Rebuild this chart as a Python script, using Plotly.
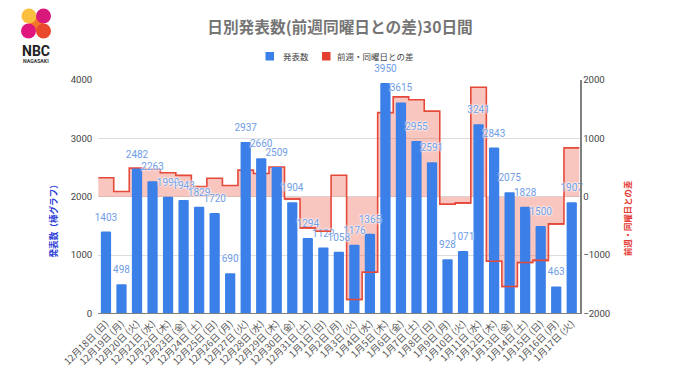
import plotly.graph_objects as go

dates = ["12月18日 (日)", "12月19日 (月)", "12月20日 (火)", "12月21日 (水)", "12月22日 (木)", "12月23日 (金)",
         "12月24日 (土)", "12月25日 (日)", "12月26日 (月)", "12月27日 (火)", "12月28日 (水)", "12月29日 (木)",
         "12月30日 (金)", "12月31日 (土)", "1月1日 (日)", "1月2日 (月)", "1月3日 (火)", "1月4日 (水)",
         "1月5日 (木)", "1月6日 (金)", "1月7日 (土)", "1月8日 (日)", "1月9日 (月)", "1月10日 (火)",
         "1月11日 (水)", "1月12日 (木)", "1月13日 (金)", "1月14日 (土)", "1月15日 (日)", "1月16日 (月)", "1月17日 (火)"]
counts = [1403, 498, 2482, 2263, 1999, 1943, 1829, 1720, 690, 2937, 2660, 2509, 1904, 1294, 1129, 1058,
          1176, 1365, 3950, 3615, 2955, 2591, 928, 1071, 3241, 2843, 2075, 1828, 1500, 463, 1907]
week_diff = [325, 90, 490, 470, 410, 365, 175, 317, 192, 455, 397, 510, -39, -535, -591, 368,
             -1761, -1295, 1441, 1711, 1661, 1466, -130, -105, 1876, -1107, -1540, -1127, -1091, -465, 836]

W, H = 680, 382
idx = list(range(len(dates)))
edges = [i - 0.5 for i in idx] + [len(idx) - 0.5]
step_y = week_diff + [week_diff[-1]]
RED = "#e5493a"
BLUE = "#3b7fe8"

neg_x, neg_y = [], []
for i, v in zip(idx, week_diff):
    if v < 0:
        neg_x += [i - 0.5, i + 0.5, None]
        neg_y += [v, v, None]

fig = go.Figure()
fig.add_trace(go.Scatter(x=edges, y=step_y, mode="lines", line=dict(shape="hv", color=RED, width=1.6),
                         fill="tozeroy", fillcolor="rgba(234,80,60,0.33)", yaxis="y", showlegend=False, hoverinfo="skip"))
fig.add_trace(go.Bar(x=idx, y=counts, width=0.66, marker=dict(color=BLUE, line_width=0), yaxis="y2",
                     showlegend=False, name="発表数"))
fig.add_trace(go.Scatter(x=idx, y=counts, mode="markers+text", text=[str(c) for c in counts],
                         textposition="top center", marker=dict(size=12, opacity=0),
                         textfont=dict(family="Roboto, sans-serif", size=10, color="#6f9de6",
                                       shadow="white 0 0 2px, white 0 0 2px, white 0 0 3px"),
                         cliponaxis=False, yaxis="y2", showlegend=False, hoverinfo="skip"))
fig.add_trace(go.Scatter(x=neg_x, y=neg_y, mode="lines", line=dict(color=RED, width=1.6), yaxis="y3",
                         showlegend=False, hoverinfo="skip"))


def px(x):
    return x / W


def py(y):
    return 1 - y / H


shapes = [dict(type="line", xref="paper", yref="paper", x0=px(29), y0=py(16), x1=px(43.5), y1=py(31),
               line=dict(color="#f2762a", width=10))]
for cx, cy, col in [(29, 16, "#fbbf40"), (43.5, 16, "#d9187c"), (28.5, 31, "#e0167e"), (43.5, 31, "#ea4a2c")]:
    shapes.append(dict(type="circle", xref="paper", yref="paper", x0=px(cx - 7.5), x1=px(cx + 7.5),
                       y0=py(cy + 7.5), y1=py(cy - 7.5), fillcolor=col, line_width=0))
for x0, col in [(265.5, BLUE), (322, "#e53f31")]:
    shapes.append(dict(type="rect", xref="paper", yref="paper", x0=px(x0), x1=px(x0 + 8.5),
                       y0=py(60.5), y1=py(52), fillcolor=col, line_width=0))

CJK = "Noto Sans CJK JP, sans-serif"
annotations = [
    dict(text="<b>NBC</b>", x=px(36), y=py(50.5), font=dict(family="Roboto, sans-serif", size=14, color="#222222")),
    dict(text="<b>NAGASAKI</b>", x=px(36), y=py(61), font=dict(family="Roboto, sans-serif", size=5.2, color="#333333")),
    dict(text="<b>発表数（棒グラフ）</b>", x=px(52.5), y=py(219), textangle=-90, font=dict(family=CJK, size=8.6, color="#2f3fd8")),
    dict(text="<b>前週・同曜日との差</b>", x=px(627), y=py(219), textangle=-90, font=dict(family=CJK, size=8.4, color="#e53935")),
    dict(text="発表数", x=px(295.5), y=py(56.5), font=dict(family=CJK, size=8.5, color="#444444")),
    dict(text="前週・同曜日との差", x=px(375.5), y=py(56.5), font=dict(family=CJK, size=8.5, color="#444444")),
]
for a in annotations:
    a.update(xref="paper", yref="paper", showarrow=False, xanchor="center", yanchor="middle")

tickfont = dict(family="Roboto, sans-serif", size=9.6, color="#444444")
fig.update_layout(
    template="none", showlegend=False,
    width=W, height=H, margin=dict(l=0, r=0, t=0, b=0, pad=0), paper_bgcolor="white", plot_bgcolor="white",
    title=dict(text="<b>日別発表数(前週同曜日との差)30日間</b>", x=0.5, xanchor="center", y=py(28), yanchor="middle",
               font=dict(family=CJK, size=15.7, color="#757575"), automargin=False),
    xaxis=dict(domain=[px(98.2), px(579.5)], range=[-0.5, 30.5], tickmode="array", tickvals=idx, ticktext=dates,
               tickangle=-45, tickfont=dict(family=CJK, size=9.5, color="#555555"), showgrid=False, automargin=False,
               showline=True, linecolor="#808080", linewidth=1.2, ticks="", zeroline=False),
    yaxis=dict(domain=[py(313.4), py(80)], range=[-2000, 2000], dtick=1000, side="right", tickfont=tickfont, automargin=False,
               showgrid=True, gridcolor="#dddddd", gridwidth=1, zeroline=True, zerolinecolor="#dddddd", zerolinewidth=1,
               showline=True, linecolor="#808080", linewidth=1.5, ticks=""),
    yaxis2=dict(domain=[py(313.4), py(80)], range=[0, 4000], dtick=1000, side="left", overlaying="y", anchor="x", automargin=False,
                tickfont=tickfont, showgrid=False, zeroline=False, showline=False,
                ticks="outside", ticklen=3, tickcolor="rgba(0,0,0,0)"),
    yaxis3=dict(range=[-2000, 2000], overlaying="y", anchor="x", side="right", visible=False),
    shapes=shapes, annotations=annotations, bargap=0.34, barcornerradius=1.5,
)
fig.write_html("out.html", config=dict(displayModeBar=False), post_script="document.body.style.margin='0';")
